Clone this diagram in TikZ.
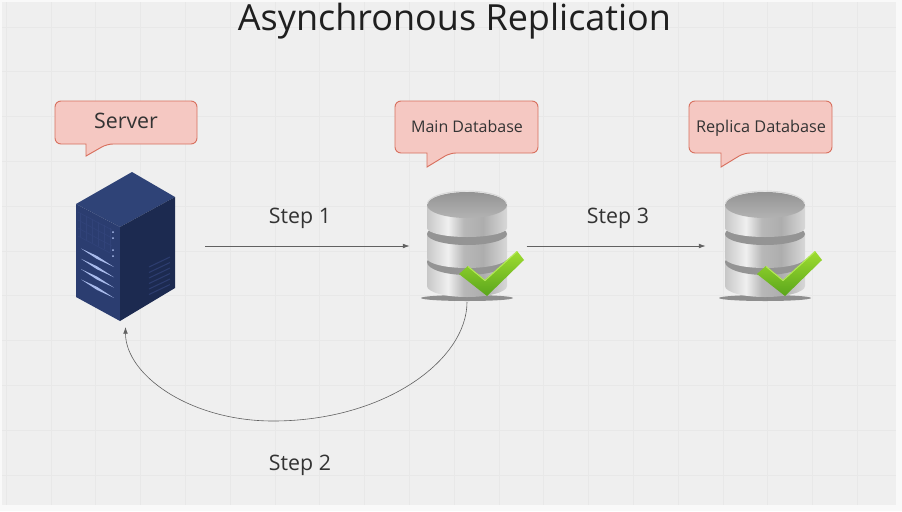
\documentclass[tikz,border=0pt]{standalone}
\usepackage{fontspec}
\setmainfont{Open Sans}
\usetikzlibrary{arrows.meta,calc}
\definecolor{pagec}{HTML}{F9F9F9}
\definecolor{canvas}{HTML}{EFEFEF}
\definecolor{gridc}{HTML}{E8E8E8}
\definecolor{callfill}{HTML}{F5C8C2}
\definecolor{callline}{HTML}{D8705E}
\definecolor{inkc}{HTML}{333333}
\definecolor{checkA}{HTML}{9FDD30}
\definecolor{checkB}{HTML}{5AA51C}
\definecolor{checkC}{HTML}{B4E85A}
\definecolor{sTop}{HTML}{2F4377}
\definecolor{sLeft}{HTML}{2B3D70}
\definecolor{sRight}{HTML}{1C2A50}
\definecolor{sGrid}{HTML}{314379}
\definecolor{sLight}{HTML}{A9BBEC}
\definecolor{sGrille}{HTML}{2C3C6E}
\pgfdeclarehorizontalshading{dbbody}{100bp}{
  color(0bp)=(black!42);
  color(8bp)=(black!30);
  color(25bp)=(black!22);
  color(38bp)=(black!6);
  color(48bp)=(black!28);
  color(60bp)=(black!32);
  color(78bp)=(black!12);
  color(90bp)=(black!30);
  color(100bp)=(black!50)}
\tikzset{
  x=0.75pt,y=-0.75pt,
  gridline/.style={gridc,line width=0.5pt},
  callout/.style={draw=callline,fill=callfill,line width=0.7pt,rounded corners=4.5pt},
  calltext/.style={text=inkc,inner sep=0pt,anchor=center},
  steplabel/.style={text=inkc,font=\fontsize{16pt}{18pt}\selectfont,inner sep=0pt},
  flow/.style={draw=black!62,line width=0.45pt,-{Latex[length=5pt,width=3.5pt]}},
  hidden/.style={inner sep=0pt,outer sep=0pt,draw=none},
  pics/database/.style={code={
    \fill[black!60,opacity=.7] (0,52) ellipse (46 and 3);
    % bottom tier
    \path[shading=dbbody]
      (-40,16) -- (-40,40) arc[start angle=180,end angle=0,x radius=40,y radius=11] -- (40,16) -- cycle;
    \fill[black!42] (0,16) ellipse (40 and 13);
    % middle tier
    \path[shading=dbbody]
      (-40,-12) -- (-40,12) arc[start angle=180,end angle=0,x radius=40,y radius=10] -- (40,-12) -- cycle;
    \fill[black!42] (0,-12) ellipse (40 and 11);
    % top tier
    \path[shading=dbbody]
      (-40,-41) -- (-40,-18) arc[start angle=180,end angle=0,x radius=40,y radius=9] -- (40,-41) -- cycle;
    \path[top color=black!42,bottom color=black!30] (0,-41) ellipse (40 and 13);
    \draw[white!85!black,line width=0.7pt] (-39.6,-42) arc[start angle=180,end angle=360,x radius=39.6,y radius=13];
    % check mark
    \path[draw=none,top color=checkA,bottom color=checkB]
      (-8,28) -- (1,20) -- (18,34) -- (50,5) -- (57,14) -- (20,50) -- cycle;
    \draw[checkC,line width=0.8pt,line join=round] (1,20.5) -- (18,34.5) -- (50,5.5);
  }}
}
\begin{document}
\begin{tikzpicture}
\useasboundingbox (0,0) rectangle (902,511);
\fill[pagec] (0,0) rectangle (902,511);
\fill[canvas] (2,2) rectangle (896,505);
\foreach \gx in {6,51,95.8,140.6,185.4,230.2,275,319.8,364.6,409.4,454.2,499,543.8,588.6,633.4,678.2,723,767.8,812.6,857.4}
  \draw[gridline] (\gx,2) -- (\gx,505);
\foreach \gy in {27,71.8,116.6,161.4,206.2,251,295.8,340.6,385.4,430.2,475}
  \draw[gridline] (2,\gy) -- (896,\gy);

\node[text=black!88,font=\fontsize{27pt}{30pt}\selectfont,inner sep=0pt] (title) at (454.5,21.5) {Asynchronous Replication};

\node[hidden,minimum width=74.25pt,minimum height=111pt] (server) at (125.5,246) {};
\fill[sTop] (132,172) -- (175,197) -- (120,227) -- (76,204) -- cycle;
\fill[sLeft] (76,204) -- (120,227) -- (120,321) -- (76,297) -- cycle;
\fill[sRight] (120,227) -- (175,197) -- (175,288) -- (120,321) -- cycle;
\foreach \i in {0,...,5}
  \draw[sGrid,line width=0.5pt] ({80+\i*6},{213+\i*3}) -- ++(0,24);
\foreach \j in {0,...,3}
  \draw[sGrid,line width=0.5pt] (78,{212+\j*8}) -- (112,{230+\j*8});
\foreach \dy in {232,238,250,256}
  \fill[sLight] (113,\dy) circle (1);
\foreach \k in {0,...,3}
  \fill[sLight] (81,{248.5+\k*10.3}) -- (97,{256+\k*10.3}) -- (114,{267+\k*10.3}) -- (97,{259+\k*10.3}) -- cycle;
\foreach \k in {0,...,5}
  \draw[sGrille,line width=0.8pt] (149,{267+\k*5.5}) -- (170,{257+\k*5.5});

\node[hidden,minimum width=60.75pt,minimum height=84pt] (maindb) at (467,246) {};
\node[hidden,minimum width=60.75pt,minimum height=84pt] (replicadb) at (765,246) {};
\pic at (maindb.center) {database};
\pic at (replicadb.center) {database};

\draw[callout] (55,101) -- (197,101) -- (197,144) -- (107,144) [sharp corners] -- (86,156) -- (86,144) [rounded corners=4.5pt] -- (55,144) -- cycle;
\node[calltext,font=\fontsize{16pt}{18pt}\selectfont] (servertext) at (126,121) {Server};
\draw[callout] (395,101) -- (538,101) -- (538,153) -- (450,153) [sharp corners] -- (427,167) -- (427,153) [rounded corners=4.5pt] -- (395,153) -- cycle;
\node[calltext,font=\fontsize{12pt}{14pt}\selectfont] (maintext) at (467,126) {Main Database};
\draw[callout] (689,101) -- (832,101) -- (832,153) -- (744,153) [sharp corners] -- (721,167) -- (721,153) [rounded corners=4.5pt] -- (689,153) -- cycle;
\node[calltext,font=\fontsize{12.2pt}{14pt}\selectfont] (replicatext) at (761,128) {Replica Database};

\draw[flow,shorten <=22.5pt,shorten >=12.75pt] (server.east) -- (maindb.west);
\draw[flow,shorten <=14.25pt,shorten >=14.25pt] (maindb.east) -- (replicadb.west);
\coordinate (curvelow) at (273,421);
\draw[flow,shorten >=5.25pt] (maindb.south) .. controls (467,360) and (385,421) .. (curvelow) .. controls (190,421) and (125.5,375) .. (server.south);

\node[steplabel] (step1) at (300,218) {Step 1};
\node[steplabel] (step3) at (618,218) {Step 3};
\node[steplabel] (step2) at (300,465) {Step 2};
\end{tikzpicture}
\end{document}
